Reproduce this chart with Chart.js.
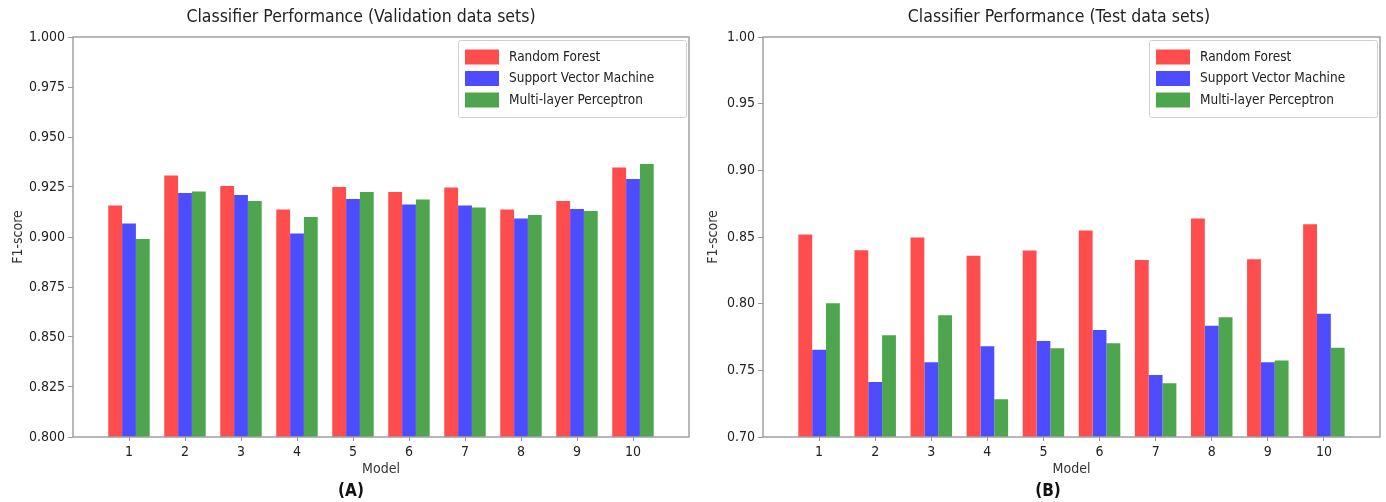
<!DOCTYPE html>
<html>
<head>
<meta charset="utf-8">
<title>Classifier Performance</title>
<script src="https://cdn.jsdelivr.net/npm/chart.js@4.4.1/dist/chart.umd.min.js"></script>
<style>
    body { margin: 0; background: #fff; }
    #wrap { position: relative; width: 1386px; height: 502px;
            font-family: 'DejaVu Sans Condensed', 'Liberation Sans Narrow', 'DejaVu Sans', sans-serif; }
    #chart-a { position: absolute; left: 0; top: 0; }
    #chart-b { position: absolute; left: 700px; top: 0; }
    .label { position: absolute; transform: translate(-50%, -50%); white-space: nowrap; color: #222; line-height: 1; }
    .title { font-size: 17.5px; top: 17px; }
    .letter { font-size: 17px; font-weight: bold; color: #111; top: 490px; }
</style>
</head>
<body>
<div id="wrap">
    <canvas id="chart-a" width="710" height="502"></canvas>
    <canvas id="chart-b" width="686" height="502"></canvas>
    <div class="label title" style="left:361px">Classifier Performance (Validation data sets)</div>
    <div class="label title" style="left:1059px">Classifier Performance (Test data sets)</div>
    <div class="label letter" style="left:351px">(A)</div>
    <div class="label letter" style="left:1048px">(B)</div>
</div>
<script>
// Model numbers on the x axis
const models = [1, 2, 3, 4, 5, 6, 7, 8, 9, 10];
const seriesNames = ['Random Forest', 'Support Vector Machine', 'Multi-layer Perceptron'];
const seriesColors = ['#ff4d4d', '#4d4dff', '#4da64d'];

// (A) validation data sets
const validRF  = [0.9157, 0.9307, 0.9255, 0.9137, 0.9250, 0.9225, 0.9247, 0.9137, 0.9180, 0.9347];
const validSVM = [0.9068, 0.9220, 0.9210, 0.9018, 0.9190, 0.9162, 0.9158, 0.9092, 0.9140, 0.9290];
const validMLP = [0.8990, 0.9228, 0.9180, 0.9100, 0.9225, 0.9188, 0.9148, 0.9110, 0.9130, 0.9365];

// (B) test data sets
const testRF  = [0.8518, 0.8400, 0.8497, 0.8360, 0.8398, 0.8548, 0.8328, 0.8638, 0.8333, 0.8595];
const testSVM = [0.7655, 0.7413, 0.7560, 0.7680, 0.7720, 0.7803, 0.7465, 0.7835, 0.7560, 0.7925];
const testMLP = [0.8003, 0.7763, 0.7913, 0.7283, 0.7665, 0.7703, 0.7403, 0.7898, 0.7573, 0.7670];

const fontFamily = "'DejaVu Sans Condensed', 'Liberation Sans Narrow', 'DejaVu Sans', sans-serif";
Chart.defaults.font.family = fontFamily;
Chart.defaults.color = '#222';

// frame round the plot and the boxed legend in the top right corner
const framePlugin = {
    id: 'frame',
    afterDraw(chart) {
        const ctx = chart.ctx;
        const a = chart.chartArea;
        ctx.save();
        ctx.strokeStyle = '#a0a0a0';
        ctx.lineWidth = 1.5;
        ctx.strokeRect(a.left, a.top, a.right - a.left, a.bottom - a.top);

        // legend
        const w = 228, h = 77;
        const x = a.right - 3 - w, y = a.top + 3;
        ctx.fillStyle = '#fff';
        ctx.strokeStyle = '#d0d0d0';
        ctx.lineWidth = 1;
        ctx.beginPath();
        ctx.roundRect(x + 0.5, y + 0.5, w, h, 2);
        ctx.fill();
        ctx.stroke();
        ctx.font = '13.5px ' + fontFamily;
        ctx.textBaseline = 'middle';
        chart.data.datasets.forEach((ds, i) => {
            const cy = y + 17 + i * 21.5;
            ctx.fillStyle = ds.backgroundColor;
            ctx.fillRect(x + 7, cy - 7.5, 34, 15);
            ctx.fillStyle = '#222';
            ctx.fillText(ds.label, x + 51, cy);
        });
        ctx.restore();
    }
};

function makeChart(canvasId, values, yMin, yStep, decimals, yWidth, yTitlePad, plotRight) {
    const canvas = document.getElementById(canvasId);
    const datasets = values.map((vals, i) => ({
        label: seriesNames[i],
        data: models.map((m, j) => ({ x: m, y: vals[j] })),
        backgroundColor: seriesColors[i],
        borderWidth: 0,
        barPercentage: 1,
        categoryPercentage: 0.74
    }));
    return new Chart(canvas, {
        type: 'bar',
        data: { datasets },
        plugins: [framePlugin],
        options: {
            responsive: false,
            animation: false,
            layout: { padding: { left: 0, right: canvas.width - plotRight, top: 37, bottom: 24 } },
            plugins: {
                legend: { display: false },
                tooltip: { enabled: false }
            },
            scales: {
                x: {
                    type: 'linear',
                    min: 0,
                    max: 11,
                    offset: false,
                    afterBuildTicks: s => { s.ticks = s.ticks.filter(t => t.value >= 1 && t.value <= 10); },
                    afterFit: s => { s.height = 41; },
                    grid: { display: true, drawOnChartArea: false, drawTicks: true, tickLength: 4, tickColor: '#999', offset: false },
                    border: { display: false },
                    ticks: { stepSize: 1, font: { size: 14 }, padding: 3, color: '#222' },
                    title: { display: true, text: 'Model', font: { size: 14 }, color: '#333', padding: { top: 0, bottom: 0 } }
                },
                y: {
                    min: yMin,
                    max: 1,
                    afterFit: s => { s.width = yWidth; },
                    grid: { display: true, drawOnChartArea: false, drawTicks: true, tickLength: 5, tickColor: '#999' },
                    border: { display: false },
                    ticks: {
                        stepSize: yStep,
                        font: { size: 14 },
                        padding: 3,
                        color: '#222',
                        callback: v => v.toFixed(decimals)
                    },
                    title: { display: true, text: 'F1-score', font: { size: 14 }, color: '#333', padding: { top: yTitlePad, bottom: 0 } }
                }
            }
        }
    });
}

makeChart('chart-a', [validRF, validSVM, validMLP], 0.8, 0.025, 3, 73, 10, 689);
makeChart('chart-b', [testRF, testSVM, testMLP], 0.7, 0.05, 2, 63, 5, 680);
</script>
</body>
</html>
